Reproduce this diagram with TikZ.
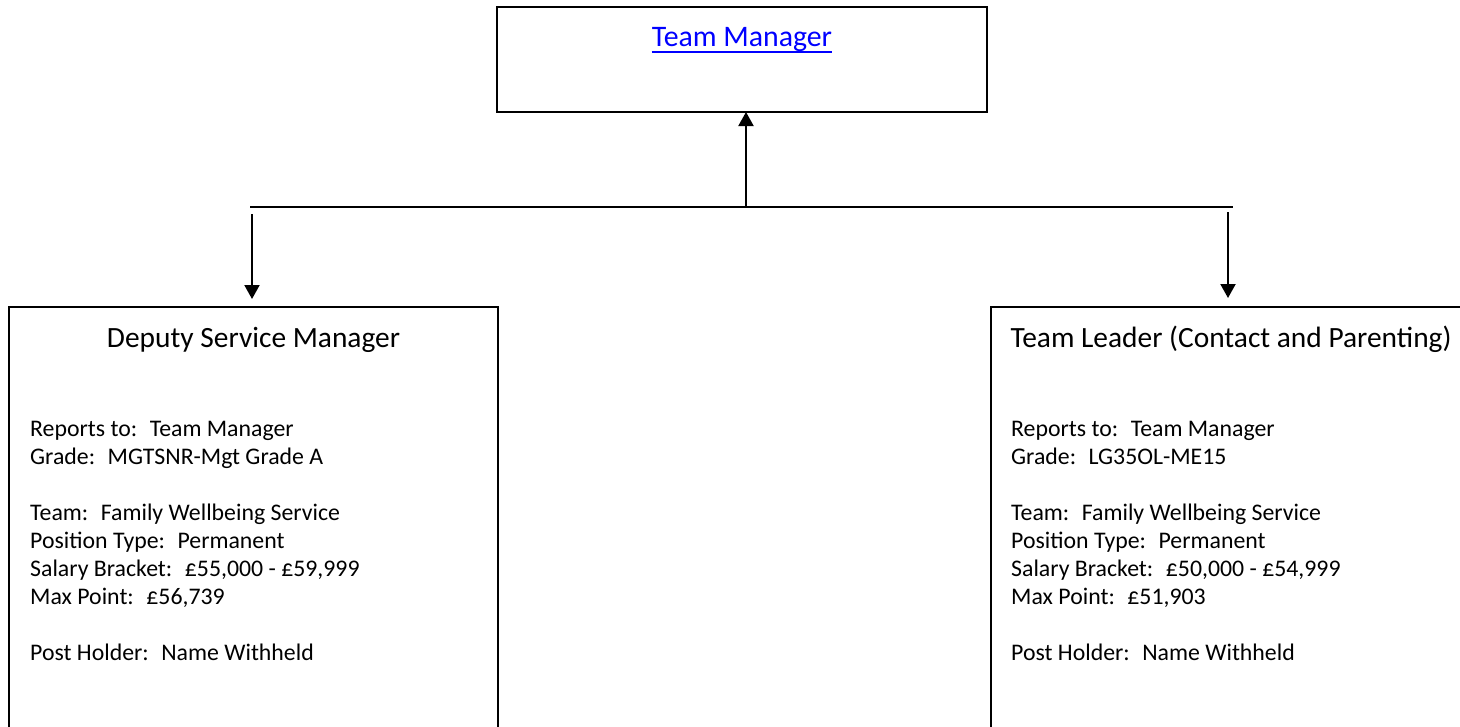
\documentclass[tikz,border=0pt]{standalone}
\usepackage{fontspec}
\setmainfont{Carlito}
\usetikzlibrary{arrows.meta}
\definecolor{linkblue}{RGB}{0,0,255}
\begin{document}
\begin{tikzpicture}[x=1pt,y=-1pt,
  box/.style={draw=black,line width=2pt,inner sep=0pt,outer sep=0pt,anchor=north west},
  conn/.style={draw=black,line width=2pt},
  arr/.style={conn,-{Triangle[width=15pt,length=14pt]}},
  body/.style={font=\fontsize{23.8}{28}\selectfont,align=left,anchor=north west,inner sep=0pt},
  title/.style={font=\fontsize{29.4}{35}\selectfont,anchor=base,inner sep=0pt}]
\useasboundingbox (0,0) rectangle (1460,726);
\begin{scope}
\clip (0,0) rectangle (1460,726);
\node[box,minimum width=490pt,minimum height=105pt] (tm) at (497,7) {};
\node[box,minimum width=489pt,minimum height=500pt] (dsm) at (9,307) {};
\node[box,minimum width=489pt,minimum height=500pt] (tl) at (991,307) {};

\node[title,text=linkblue,font=\fontsize{29.8}{35}\selectfont] (tmt) at (742,46) {Team Manager};
\draw[linkblue,line width=2pt] ([yshift=-5.5pt]tmt.base west) -- ([yshift=-5.5pt]tmt.base east);

\coordinate (busL) at (250,207);
\coordinate (busR) at (1233,207);
\draw[conn] (busL) -- (busR);
\coordinate (upS) at (746,207);
\draw[arr] (upS) -- (upS |- tm.south);
\coordinate (lS) at (252,214);
\draw[arr,shorten >=8pt] (lS) -- (lS |- dsm.north);
\coordinate (rS) at (1228,212);
\draw[arr,shorten >=9pt] (rS) -- (rS |- tl.north);

\node[title] (dsmT) at (253.5,347) {Deputy Service Manager};
\node[title] (tlT) at (1231,347) {Team Leader (Contact and Parenting)};

\node[body] (dsmB) at (30,421) {Reports to:~ Team Manager\\
Grade:~ MGTSNR-Mgt Grade A\\[28pt]
Team:~ Family Wellbeing Service\\
Position Type:~ Permanent\\
Salary Bracket:~ £55,000 - £59,999\\
Max Point:~ £56,739\\[28pt]
Post Holder:~ Name Withheld};

\node[body] (tlB) at (1011,421) {Reports to:~ Team Manager\\
Grade:~ LG35OL-ME15\\[28pt]
Team:~ Family Wellbeing Service\\
Position Type:~ Permanent\\
Salary Bracket:~ £50,000 - £54,999\\
Max Point:~ £51,903\\[28pt]
Post Holder:~ Name Withheld};
\end{scope}
\end{tikzpicture}
\end{document}
